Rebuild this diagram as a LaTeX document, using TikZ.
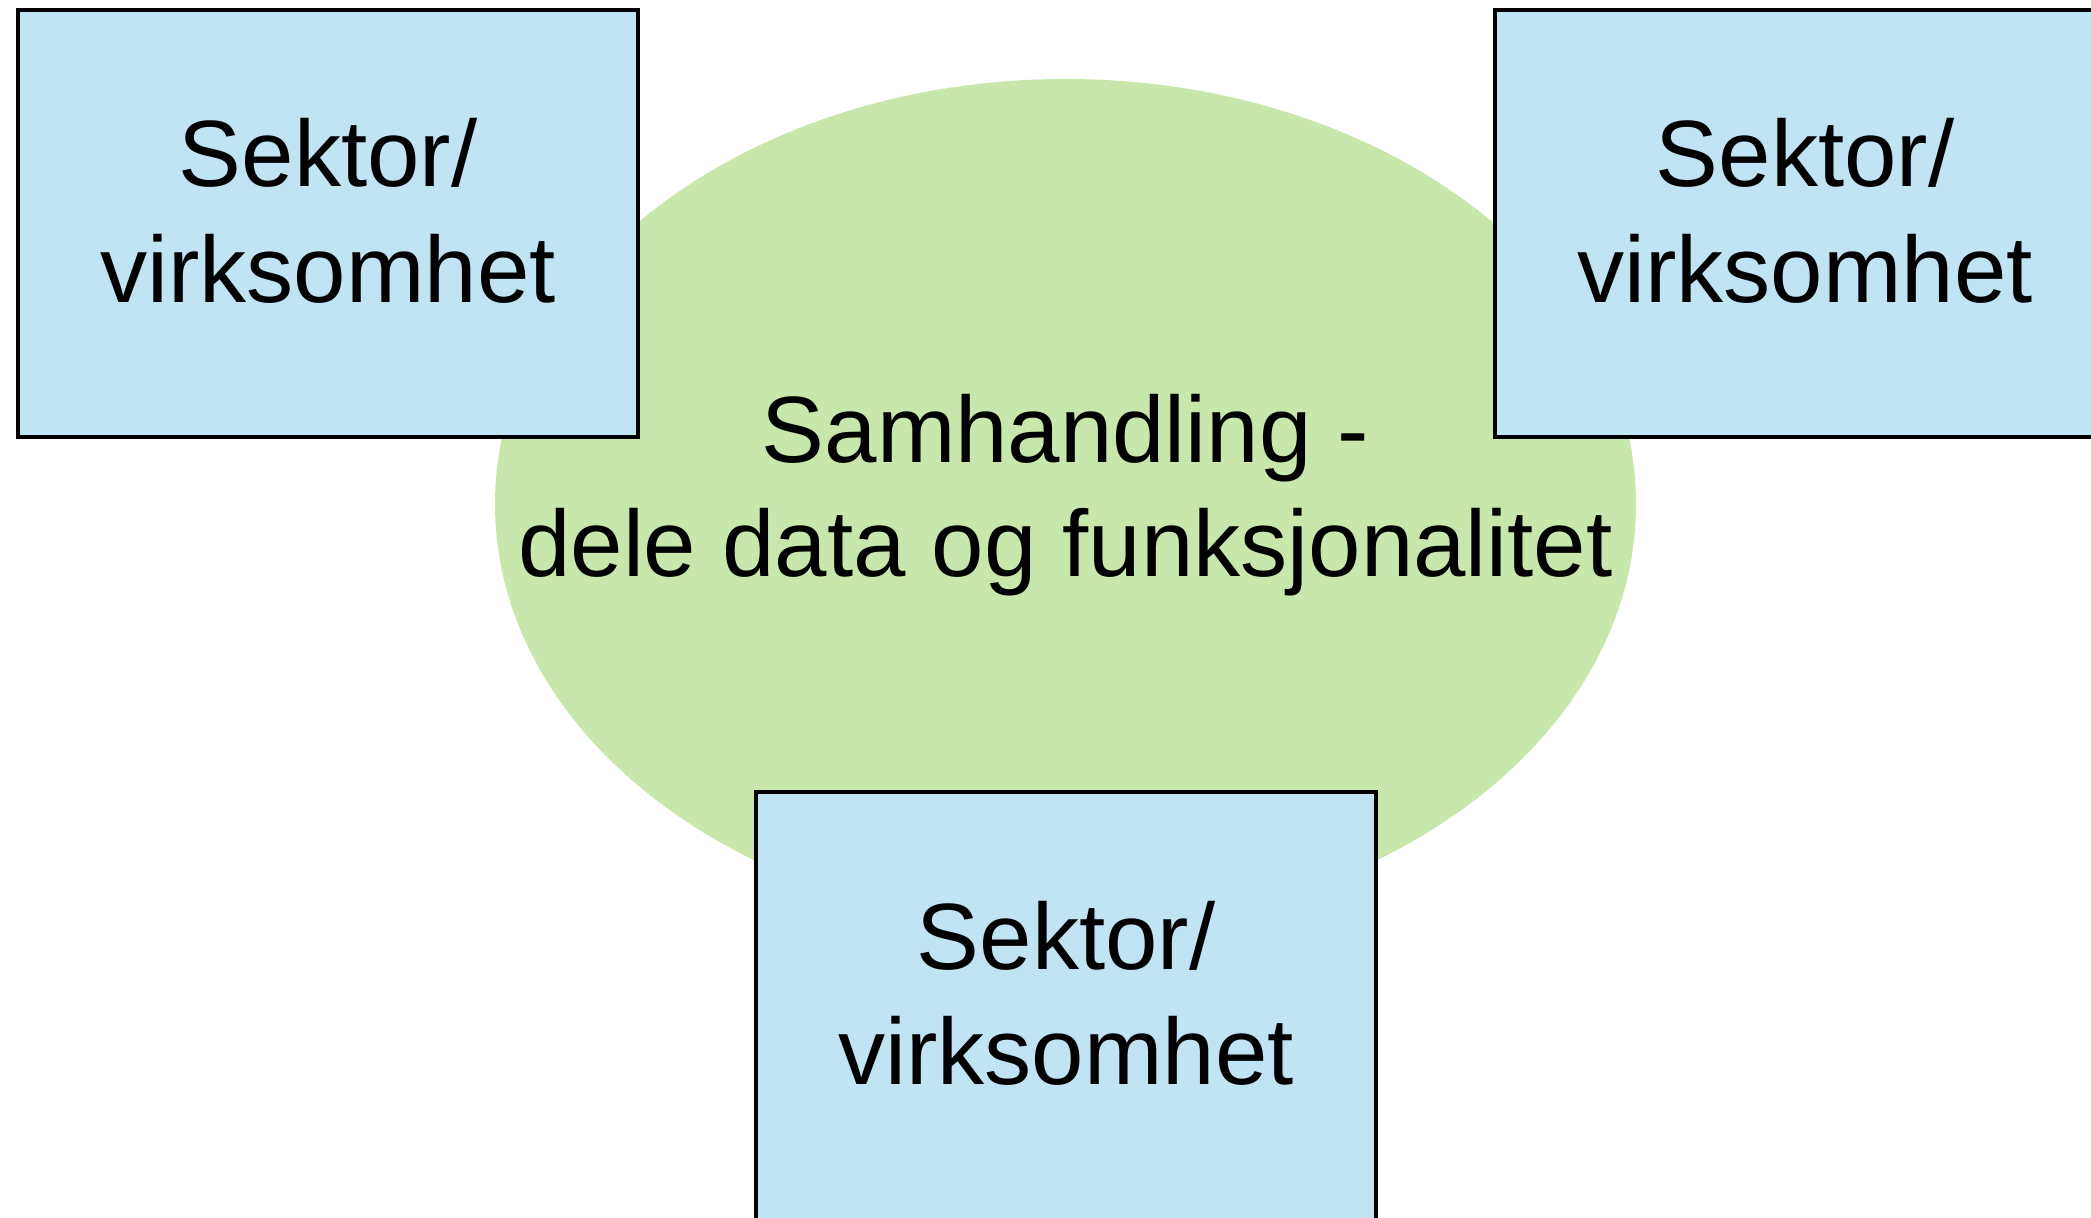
\documentclass[tikz,border=0pt]{standalone}
\usepackage{fontspec}
\setmainfont{Liberation Sans}
\definecolor{sectorblue}{RGB}{193, 228, 245}
\definecolor{sharegreen}{RGB}{200, 231, 172}
\usetikzlibrary{shapes.geometric}

\tikzset{
  sector/.style={draw=black, line width=1.1pt, fill=sectorblue, minimum width=6.2cm, minimum height=4.27cm,
    align=center, font=\fontsize{26.8}{32.8}\selectfont, text depth=0.26cm},
  area/.style={ellipse, fill=sharegreen, minimum width=11.41cm, minimum height=8.5cm, inner sep=0pt}
}

\begin{document}
\begin{tikzpicture}
  \useasboundingbox (0,0) rectangle (20.91,12.17);

  % Shared area
  \node[area] (omraade) at (10.655, 7.13) {};
  \node[align=center, font=\fontsize{26.8}{32.3}\selectfont] (samhandling) at ([yshift=0.09cm]omraade.center)
    {Samhandling -\\dele data og funksjonalitet};

  % Sectors
  \node[sector] (sektorA) at (3.28, 9.935) {Sektor/\\virksomhet};
  \node[sector] (sektorB) at (18.05, 9.935) {Sektor/\\virksomhet};
  \node[sector, minimum height=4.4cm, text depth=0.39cm] (sektorC) at (10.66, 2.05) {Sektor/\\virksomhet};
\end{tikzpicture}
\end{document}
